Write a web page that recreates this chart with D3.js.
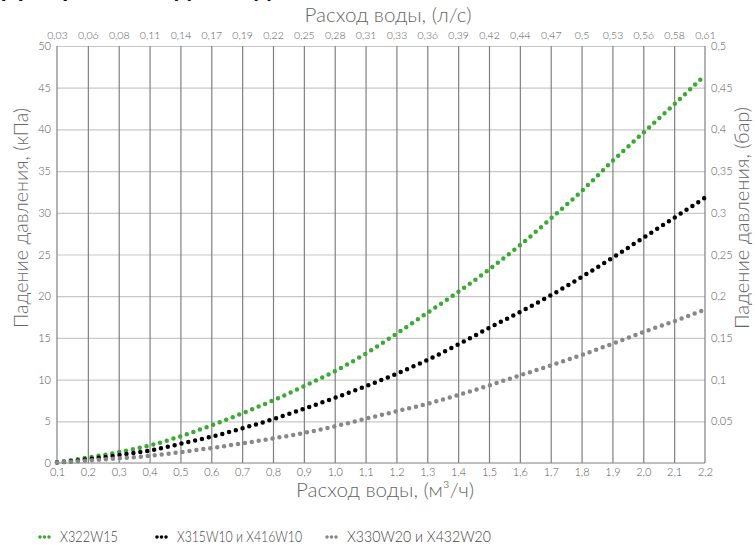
<!DOCTYPE html>
<html><head><meta charset="utf-8">
<script src="https://cdn.jsdelivr.net/npm/d3@7/dist/d3.min.js"></script>
<style>
body{margin:0;background:#fff}
svg{display:block;font-family:Lato,"Open Sans",sans-serif;font-weight:300}
</style>
</head><body><svg id="c" width="755" height="545"></svg>
<script>
// ---- data ----
const flowM3h = [0.1,0.2,0.3,0.4,0.5,0.6,0.7,0.8,0.9,1.0,1.1,1.2,1.3,1.4,1.5,1.6,1.7,1.8,1.9,2.0,2.1,2.2];
const flowLs = ["0,03","0,06","0,08","0,11","0,14","0,17","0,19","0,22","0,25","0,28","0,31","0,33","0,36","0,39","0,42","0,44","0,47","0,5","0,53","0,56","0,58","0,61"];
const dpX322W15 = [0.1,0.65,1.3,2.1,3.2,4.5,5.95,7.5,9.2,11.0,13.1,15.5,18.0,20.5,23.2,26.1,29.3,32.6,36.2,39.6,43.0,46.5];
const dpX315W10 = [0.05,0.45,0.95,1.5,2.3,3.15,4.15,5.25,6.5,7.8,9.2,10.7,12.35,14.2,16.2,18.1,20.1,22.3,24.6,27.0,29.4,31.8];
const dpX330W20 = [0.05,0.3,0.55,0.85,1.3,1.8,2.35,2.95,3.6,4.4,5.3,6.2,7.1,8.15,9.3,10.5,11.7,12.95,14.3,15.7,17.0,18.4];
const seriesNames = ["X322W15","X315W10 и X416W10","X330W20 и X432W20"];
const seriesColors = ["#3aaa35","#000000","#888888"];
const kpaTicks = [0,5,10,15,20,25,30,35,40,45,50];
const barTicks = [0.05,0.1,0.15,0.2,0.25,0.3,0.35,0.4,0.45,0.5];
const titleText = "Диаграмма падения давления";
const topTitle = "Расход воды, (л/с)";
const bottomTitle = "Расход воды, (м³/ч)";
const leftTitle = "Падение давления, (кПа)";
const rightTitle = "Падение давления, (бар)";

// ---- chart ----
const svg = d3.select("#c");
const X0 = 57, X1 = 705, Y0 = 463, Y1 = 46;
const x = d3.scaleLinear().domain([0.1, 2.2]).range([X0, X1]);
const y = d3.scaleLinear().domain([0, 50]).range([Y0, Y1]);
const yBar = d3.scaleLinear().domain([0, 0.5]).range([Y0, Y1]);
const comma = v => String(v).replace(".", ",");

// title, mostly above the visible area as in the reference
svg.append("text").attr("x", 2).attr("y", -3)
  .attr("font-size", 26).attr("font-weight", 700).attr("fill", "#111")
  .style("font-family", "Lato, sans-serif").text(titleText);

// horizontal grid
svg.append("g").attr("transform", `translate(${X0},0)`)
  .call(d3.axisLeft(y).tickValues(kpaTicks.slice(1)).tickSize(-(X1 - X0)).tickFormat(""))
  .call(g => g.select(".domain").remove())
  .call(g => g.selectAll("line").attr("stroke", "#c8c8c8").attr("stroke-width", 1.2));

// vertical grid
svg.append("g").attr("transform", `translate(0,${Y0})`)
  .call(d3.axisBottom(x).tickValues(flowM3h.slice(1, -1)).tickSize(-(Y0 - Y1)).tickFormat(""))
  .call(g => g.select(".domain").remove())
  .call(g => g.selectAll("line").attr("stroke", "#808080").attr("stroke-width", 1.2));

// frame
const frame = svg.append("g").attr("fill", "none");
frame.append("line").attr("x1", X0).attr("x2", X0).attr("y1", Y1).attr("y2", Y0).attr("stroke", "#808080").attr("stroke-width", 1.2);
frame.append("line").attr("x1", X1).attr("x2", X1).attr("y1", Y1).attr("y2", Y0).attr("stroke", "#808080").attr("stroke-width", 1.2);
frame.append("line").attr("x1", X0).attr("x2", X1).attr("y1", Y0).attr("y2", Y0).attr("stroke", "#808080").attr("stroke-width", 1.2);

function styleTicks(g, size) {
  g.select(".domain").remove();
  g.selectAll("text").attr("fill", "#555").attr("font-size", size)
    .style("font-family", "Lato, sans-serif").style("font-weight", 300);
}

// bottom axis
svg.append("g").attr("transform", `translate(0,${Y0})`)
  .call(d3.axisBottom(x).tickValues(flowM3h).tickSize(0).tickPadding(5)
    .tickFormat(d => d3.format(".1f")(d).replace(".", ",")))
  .call(g => styleTicks(g, 11));

// top axis
svg.append("g").attr("transform", `translate(0,${Y1})`)
  .call(d3.axisTop(x).tickValues(flowM3h).tickSize(0).tickPadding(7)
    .tickFormat((d, i) => flowLs[i]))
  .call(g => styleTicks(g, 10.5));

// left axis
svg.append("g").attr("transform", `translate(${X0},0)`)
  .call(d3.axisLeft(y).tickValues(kpaTicks).tickSize(0).tickPadding(6).tickFormat(d => String(d)))
  .call(g => styleTicks(g, 11));

// right axis
svg.append("g").attr("transform", `translate(${X1},0)`)
  .call(d3.axisRight(yBar).tickValues(barTicks).tickSize(0).tickPadding(6)
    .tickFormat(d => comma(+d.toFixed(2))))
  .call(g => styleTicks(g, 11));

// axis titles
const tStyle = (s, len) => s.attr("fill", "#666").attr("font-size", 19).attr("text-anchor", "middle")
  .attr("textLength", len).attr("lengthAdjust", "spacingAndGlyphs")
  .style("font-family", "Lato, sans-serif").style("font-weight", 300);
svg.append("text").attr("x", 388).attr("y", 22).text(topTitle).call(tStyle, 167);
svg.append("text").attr("x", 385).attr("y", 497).text(bottomTitle).call(tStyle, 178);
svg.append("text").attr("transform", "translate(28,218) rotate(-90)").text(leftTitle).call(tStyle, 220);
svg.append("text").attr("transform", "translate(749,218) rotate(-90)").text(rightTitle).call(tStyle, 222);

// curves
const allSeries = [dpX322W15, dpX315W10, dpX330W20];
const line = d3.line().x(d => x(d[0])).y(d => y(d[1])).curve(d3.curveMonotoneX);
allSeries.forEach((vals, i) => {
  svg.append("path")
    .datum(flowM3h.map((f, j) => [f, vals[j]]))
    .attr("d", line)
    .attr("fill", "none")
    .attr("stroke", seriesColors[i])
    .attr("stroke-width", 4.5)
    .attr("stroke-linecap", "round")
    .attr("stroke-dasharray", "0 7");
});

// legend
const legX = [40, 157, 327];
const legLen = [58, 125, 144];
const legend = svg.append("g");
seriesNames.forEach((name, i) => {
  legend.append("line").attr("x1", legX[i]).attr("x2", legX[i] + 13.5)
    .attr("y1", 537).attr("y2", 537)
    .attr("stroke", seriesColors[i]).attr("stroke-width", 3.6)
    .attr("stroke-linecap", "round").attr("stroke-dasharray", "0 4.5");
  legend.append("text").attr("x", legX[i] + 20).attr("y", 542)
    .attr("fill", "#444").attr("font-size", 16.5)
    .attr("textLength", legLen[i]).attr("lengthAdjust", "spacingAndGlyphs")
    .style("font-family", "Lato, sans-serif").style("font-weight", 300)
    .text(name);
});
</script>
</body></html>
